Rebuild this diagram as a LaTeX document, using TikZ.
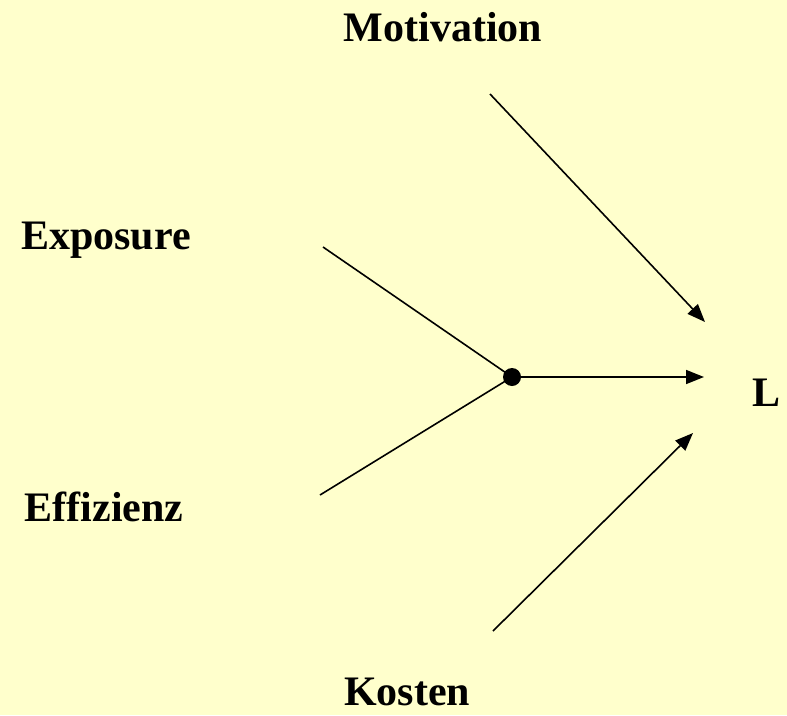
\documentclass[tikz,border=0pt]{standalone}
\usepackage{fontspec}
\setmainfont{Liberation Serif}
\usetikzlibrary{arrows.meta}
\definecolor{bgyellow}{HTML}{FFFFCC}
\begin{document}
\begin{tikzpicture}[x=1pt,y=-1pt]
        \tikzset{
            factor/.style={font=\fontsize{42}{48}\selectfont\bfseries,inner sep=0pt},
            link/.style={line width=1.6pt},
            arr/.style={link,-{Triangle[length=18pt,width=14pt]}},
        }
        \fill[bgyellow] (0,0) rectangle (787,715);
        \useasboundingbox (0,0) rectangle (787,715);

        \node[factor] (mot) at(443,27) {Motivation};
        \node[factor] (exp) at(106,240) {Exposure};
        \node[factor] (eff) at(104,507) {Effizienz};
        \node[factor] (kos) at(407,692) {Kosten};
        \node[factor] (l) at(766,393) {L};

        \node[circle,fill=black,minimum size=18pt,inner sep=0pt] (dot) at(512,377) {};
        \coordinate (expend) at(323,247);
        \coordinate (effend) at(320,495);
        \coordinate (motend) at(490,94);
        \coordinate (kosend) at(493,631);
        \coordinate (ltop) at(705,322);
        \coordinate (lmid) at(704,377);
        \coordinate (lbot) at(693,433);

        \draw[link] (expend) -- (dot.center);
        \draw[link] (effend) -- (dot.center);
        \draw[arr] (dot) -- (lmid);
        \draw[arr] (motend) -- (ltop);
        \draw[arr] (kosend) -- (lbot);
    \end{tikzpicture}
\end{document}
